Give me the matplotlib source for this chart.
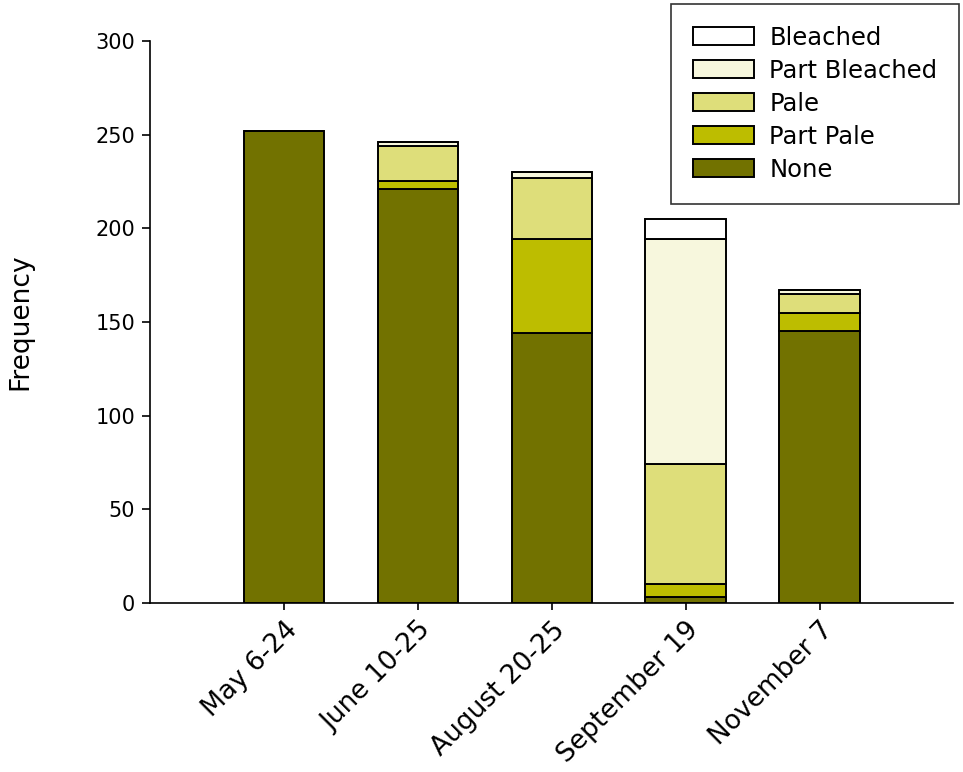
import matplotlib
matplotlib.use("Agg")
import matplotlib.pyplot as plt
import numpy as np

plt.rcParams['font.family'] = ['DejaVu Sans']

categories = ["May 6-24", "June 10-25", "August 20-25", "September 19", "November 7"]
none_vals = [252, 221, 144, 3, 145]
part_pale = [0, 4, 50, 7, 10]
pale = [0, 19, 33, 64, 10]
part_bleached = [0, 2, 3, 120, 2]
bleached = [0, 0, 0, 11, 0]

series = [("None", none_vals, "#727200"),
          ("Part Pale", part_pale, "#bdbd00"),
          ("Pale", pale, "#dede7a"),
          ("Part Bleached", part_bleached, "#f7f7dd"),
          ("Bleached", bleached, "#ffffff")]

fig = plt.figure(figsize=(9.63, 7.72), dpi=100)
ax = fig.add_axes([0.156, 0.219, 0.834, 0.728])

x = np.arange(len(categories))
bottom = np.zeros(len(categories))
handles = []
for name, vals, col in series:
    vals = np.array(vals, dtype=float)
    b = ax.bar(x, vals, 0.6, bottom=bottom, color=col, edgecolor="black",
               linewidth=1.4, label=name)
    handles.append(b)
    bottom += vals

ax.set_xlim(-1, 5)
ax.set_ylim(0, 300)
ax.set_yticks([0, 50, 100, 150, 200, 250, 300])
ax.set_xticks(x)
ax.set_xticklabels(categories, rotation=45, ha="right", rotation_mode="anchor", fontsize=19)
ax.tick_params(axis="y", labelsize=15, direction="out", length=6, width=1.2, pad=5)
ax.tick_params(axis="x", direction="out", length=5, width=1.2, pad=5)
for s in ["top", "right"]:
    ax.spines[s].set_visible(False)
for s in ["left", "bottom"]:
    ax.spines[s].set_linewidth(1.2)
ax.set_ylabel("Frequency", fontsize=19)
ax.yaxis.set_label_coords(-0.146, 0.5)

leg = ax.legend(handles[::-1], [s[0] for s in series][::-1], loc="upper right",
                bbox_to_anchor=(1.0075, 1.066), borderaxespad=0,
                fontsize=17.5, frameon=True,
                fancybox=False, edgecolor="black", handlelength=2.5,
                handleheight=0.75, labelspacing=0.37, borderpad=0.9,
                handletextpad=0.65)
leg.get_frame().set_linewidth(1.2)

fig.savefig("out.png", dpi=100)
